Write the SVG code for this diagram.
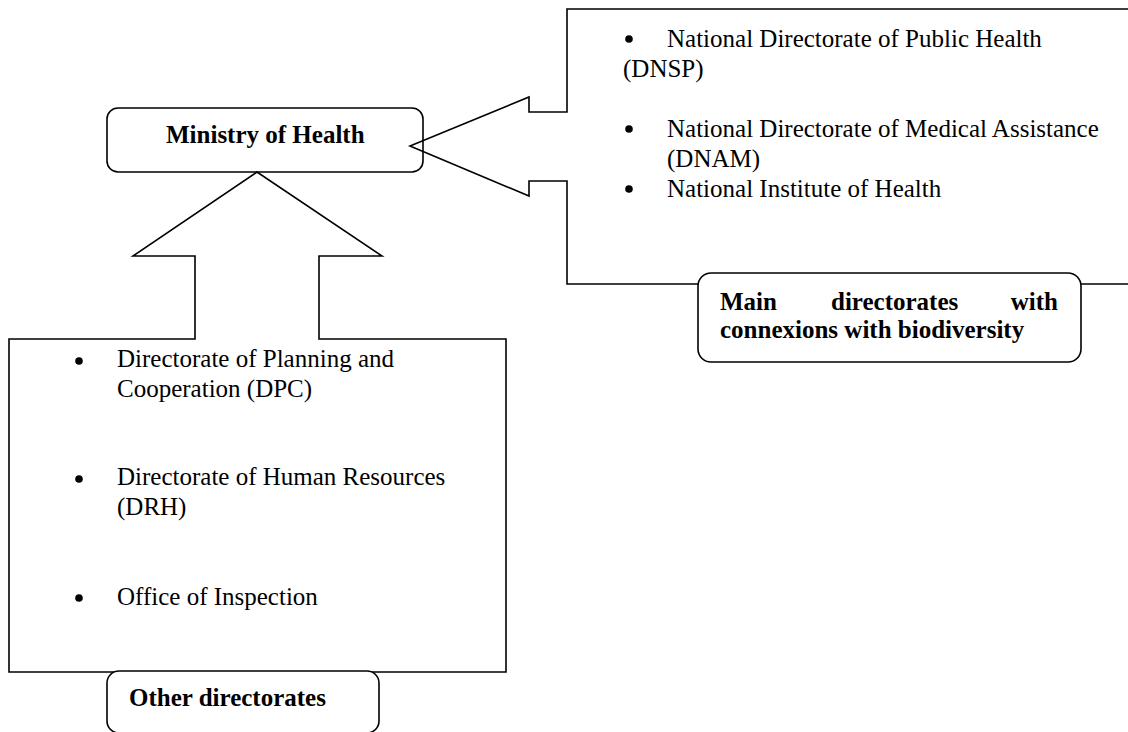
<svg xmlns="http://www.w3.org/2000/svg" width="1128" height="732" viewBox="0 0 1128 732">
  <style>
    .shape { fill: none; stroke: #000; stroke-width: 1.6; stroke-linejoin: miter; }
    .label { fill: #fff; stroke: #000; stroke-width: 1.6; }
    .txt { font-family: "Liberation Serif", "Times New Roman", serif; font-size: 25px; fill: #000; }
    .bold { font-family: "Liberation Serif", "Times New Roman", serif; font-size: 25px; font-weight: bold; fill: #000; }
    .dot { fill: #000; }
  </style>
  <rect width="1128" height="732" fill="#fff"/>

  <!-- central node -->
  <g id="ministry">
    <rect class="label" x="107" y="108" width="316" height="64" rx="11"/>
    <text class="bold" x="166" y="143">Ministry of Health</text>
  </g>

  <!-- callout shapes (arrow-shaped connectors into the ministry) -->
  <g id="connectors">
    <path class="shape" d="M1130,9 H567 V112 H529 V97 L410,146 L529,196 V181 H567 V284 H1130"/>
    <path class="shape" d="M257,172 L133,256 H195 V339 H9 V672 H506 V339 H319 V256 H382 Z"/>
  </g>

  <!-- main directorates list -->
  <g id="main-list">
    <circle class="dot" cx="629" cy="39" r="3.8"/>
    <text class="txt" x="667" y="47">National Directorate of Public Health</text>
    <text class="txt" x="623" y="77">(DNSP)</text>
    <circle class="dot" cx="629" cy="129" r="3.8"/>
    <text class="txt" x="667" y="137">National Directorate of Medical Assistance</text>
    <text class="txt" x="667" y="167">(DNAM)</text>
    <circle class="dot" cx="629" cy="189" r="3.8"/>
    <text class="txt" x="667" y="197">National Institute of Health</text>
  </g>

  <g id="main-label">
    <rect class="label" x="698" y="273" width="383" height="89" rx="13"/>
    <text class="bold" x="720" y="310">Main</text>
    <text class="bold" x="831" y="310">directorates</text>
    <text class="bold" x="1058" y="310" text-anchor="end">with</text>
    <text class="bold" x="720" y="338">connexions with biodiversity</text>
  </g>

  <!-- other directorates list -->
  <g id="other-list">
    <circle class="dot" cx="79" cy="361" r="3.8"/>
    <text class="txt" x="117" y="367">Directorate of Planning and</text>
    <text class="txt" x="117" y="397">Cooperation (DPC)</text>
    <circle class="dot" cx="79" cy="479" r="3.8"/>
    <text class="txt" x="117" y="485">Directorate of Human Resources</text>
    <text class="txt" x="117" y="515">(DRH)</text>
    <circle class="dot" cx="79" cy="598" r="3.8"/>
    <text class="txt" x="117" y="605">Office of Inspection</text>
  </g>

  <g id="other-label">
    <rect class="label" x="107" y="671" width="272" height="62" rx="12"/>
    <text class="bold" x="129" y="706">Other directorates</text>
  </g>
</svg>
